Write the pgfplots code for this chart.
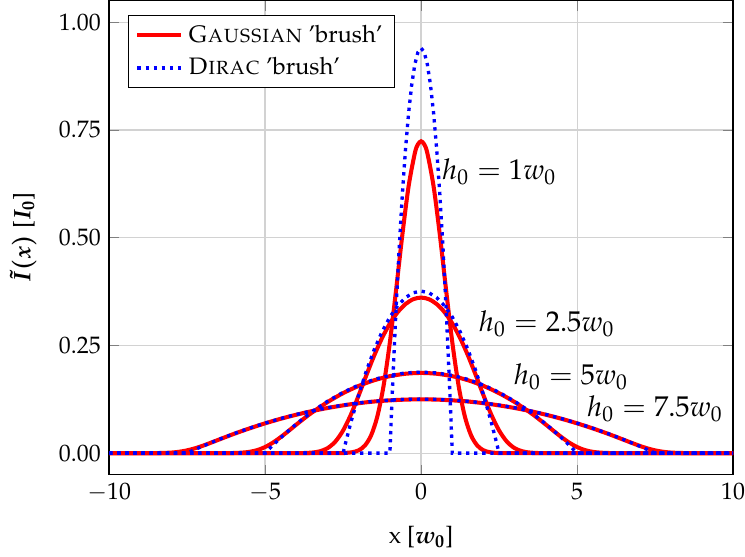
\documentclass[border=0pt]{standalone}
\usepackage[T1]{fontenc}
\usepackage{mathpazo}
\usepackage{amsmath}
\usepackage{bm}
\usepackage{pgfplots}
\pgfplotsset{compat=1.18}
\begin{document}
\begin{tikzpicture}
\begin{axis}[
  scale only axis,
  width=262pt, height=199pt,
  xmin=-10, xmax=10, ymin=-0.05, ymax=1.05,
  xtick={-10,-5,0,5,10},
  ytick={0,0.25,0.5,0.75,1},
  yticklabel style={/pgf/number format/.cd, fixed, fixed zerofill, precision=2},
  xticklabel style={inner xsep=0pt},
  grid=major,
  grid style={line width=0.5pt, gray!35},
  axis line style={line width=0.6pt},
  xlabel={x [$\bm{w_0}$]},
  xlabel shift=3.5pt,
  ylabel shift=2.5pt,
  ylabel={$\bm{\tilde{I}(x)}$ [$\bm{I_0}$]},
  legend pos=north west,
  legend cell align=left,
  legend style={draw=black, font=\normalsize, row sep=1pt},
  legend image code/.code={\draw[#1] (0cm,0cm) -- (0.65cm,0cm);},
]
% Gaussian brush
\addplot[red, line width=1.7pt, smooth] coordinates {
(-10,0) (-3,0) (-2.6,0.0001) (-2.4,0.0006) (-2.2,0.0022) (-2.0,0.0065) (-1.8,0.0177) (-1.6,0.0415) (-1.4,0.0857) (-1.2,0.1573) (-1.0,0.2575) (-0.8,0.3795) (-0.6,0.5070) (-0.4,0.6194) (-0.2,0.6964) (-0.1,0.7168)
(0,0.7237)
(0.1,0.7168) (0.2,0.6964) (0.4,0.6194) (0.6,0.5070) (0.8,0.3795) (1.0,0.2575) (1.2,0.1573) (1.4,0.0857) (1.6,0.0415) (1.8,0.0177) (2.0,0.0065) (2.2,0.0022) (2.4,0.0006) (2.6,0.0001) (3,0) (10,0)
};
\addlegendentry{\textsc{Gaussian} 'brush'}
\addplot[red, line width=1.7pt, smooth, forget plot] coordinates {
(-10,0) (-4,0) (-3.75,0.0003) (-3.5,0.0012) (-3.25,0.0041) (-3.0,0.0114) (-2.75,0.0266) (-2.5,0.0525) (-2.25,0.0893) (-2.0,0.1340) (-1.75,0.1815) (-1.5,0.2270) (-1.25,0.2673) (-1.0,0.3009) (-0.75,0.3271) (-0.5,0.3459) (-0.25,0.3572)
(0,0.3610)
(0.25,0.3572) (0.5,0.3459) (0.75,0.3271) (1.0,0.3009) (1.25,0.2673) (1.5,0.2270) (1.75,0.1815) (2.0,0.1340) (2.25,0.0893) (2.5,0.0525) (2.75,0.0266) (3.0,0.0114) (3.25,0.0041) (3.5,0.0012) (3.75,0.0003) (4,0) (10,0)
};
\addplot[red, line width=1.7pt, smooth, forget plot] coordinates {
(-10,0) (-6.5,0) (-6,0.0003) (-5.75,0.0011) (-5.5,0.0030) (-5.25,0.0070) (-5,0.0141) (-4.75,0.0243) (-4.5,0.0371) (-4.25,0.0514) (-4,0.0661) (-3.75,0.0804) (-3.5,0.0940) (-3,0.1184) (-2.5,0.1391) (-2,0.1560) (-1.5,0.1692) (-1,0.1786) (-0.5,0.1842)
(0,0.1861)
(0.5,0.1842) (1,0.1786) (1.5,0.1692) (2,0.1560) (2.5,0.1391) (3,0.1184) (3.5,0.0940) (3.75,0.0804) (4,0.0661) (4.25,0.0514) (4.5,0.0371) (4.75,0.0243) (5,0.0141) (5.25,0.0070) (5.5,0.0030) (5.75,0.0011) (6,0.0003) (6.5,0) (10,0)
};
\addplot[red, line width=1.7pt, smooth, forget plot] coordinates {
(-10,0) (-9,0) (-8.5,0.0001) (-8.25,0.0005) (-8,0.0013) (-7.75,0.0032) (-7.5,0.0064) (-7.25,0.0111) (-7,0.0170) (-6.75,0.0238) (-6.5,0.0308) (-6,0.0446) (-5.5,0.0574) (-5,0.0691) (-4.5,0.0797) (-4,0.0891) (-3.5,0.0975) (-3,0.1047) (-2.5,0.1108) (-2,0.1159) (-1.5,0.1198) (-1,0.1225) (-0.5,0.1242)
(0,0.1248)
(0.5,0.1242) (1,0.1225) (1.5,0.1198) (2,0.1159) (2.5,0.1108) (3,0.1047) (3.5,0.0975) (4,0.0891) (4.5,0.0797) (5,0.0691) (5.5,0.0574) (6,0.0446) (6.5,0.0308) (6.75,0.0238) (7,0.0170) (7.25,0.0111) (7.5,0.0064) (7.75,0.0032) (8,0.0013) (8.25,0.0005) (8.5,0.0001) (9,0) (10,0)
};
% Dirac brush
\addplot[blue, line width=1.4pt, dotted] coordinates {
(-10,0) (-1.0,0) (-0.95,0.0917) (-0.9,0.1786) (-0.8,0.3384) (-0.7,0.4794) (-0.6,0.6016) (-0.5,0.7050) (-0.4,0.7896) (-0.3,0.8554) (-0.2,0.9024) (-0.1,0.9306)
(0,0.9400)
(0.1,0.9306) (0.2,0.9024) (0.3,0.8554) (0.4,0.7896) (0.5,0.7050) (0.6,0.6016) (0.7,0.4794) (0.8,0.3384) (0.9,0.1786) (0.95,0.0917) (1.0,0) (10,0)
};
\addlegendentry{\textsc{Dirac} 'brush'}
\addplot[blue, line width=1.4pt, dotted, forget plot] coordinates {
(-10,0) (-2.5,0) (-2.4,0.0295) (-2.25,0.0714) (-2.0,0.1354) (-1.75,0.1918) (-1.5,0.2406) (-1.25,0.2820) (-1.0,0.3158) (-0.75,0.3422) (-0.5,0.3610) (-0.25,0.3722)
(0,0.3760)
(0.25,0.3722) (0.5,0.3610) (0.75,0.3422) (1.0,0.3158) (1.25,0.2820) (1.5,0.2406) (1.75,0.1918) (2.0,0.1354) (2.25,0.0714) (2.4,0.0295) (2.5,0) (10,0)
};
\addplot[blue, line width=1.4pt, dotted, forget plot] coordinates {
(-10,0) (-5,0) (-4.8,0.0147) (-4.5,0.0357) (-4,0.0677) (-3.5,0.0959) (-3,0.1203) (-2.5,0.1410) (-2,0.1579) (-1.5,0.1711) (-1,0.1805) (-0.5,0.1861)
(0,0.1880)
(0.5,0.1861) (1,0.1805) (1.5,0.1711) (2,0.1579) (2.5,0.1410) (3,0.1203) (3.5,0.0959) (4,0.0677) (4.5,0.0357) (4.8,0.0147) (5,0) (10,0)
};
\addplot[blue, line width=1.4pt, dotted, forget plot] coordinates {
(-10,0) (-7.5,0) (-7.25,0.0082) (-7,0.0162) (-6.5,0.0312) (-6,0.0451) (-5.5,0.0579) (-5,0.0696) (-4.5,0.0802) (-4,0.0897) (-3.5,0.0980) (-3,0.1053) (-2.5,0.1114) (-2,0.1164) (-1.5,0.1203) (-1,0.1231) (-0.5,0.1248)
(0,0.1253)
(0.5,0.1248) (1,0.1231) (1.5,0.1203) (2,0.1164) (2.5,0.1114) (3,0.1053) (3.5,0.0980) (4,0.0897) (4.5,0.0802) (5,0.0696) (5.5,0.0579) (6,0.0451) (6.5,0.0312) (7,0.0162) (7.25,0.0082) (7.5,0) (10,0)
};
\node[anchor=west, inner sep=0pt, font=\large] at (axis cs:0.66,0.653) {$h_0 = 1w_0$};
\node[anchor=west, inner sep=0pt, font=\large] at (axis cs:1.84,0.301) {$h_0 = 2.5w_0$};
\node[anchor=west, inner sep=0pt, font=\large] at (axis cs:2.96,0.177) {$h_0 = 5w_0$};
\node[anchor=west, inner sep=0pt, font=\large] at (axis cs:5.31,0.103) {$h_0 = 7.5w_0$};
\end{axis}
\path ([xshift=-45.8pt]current axis.south west);
\end{tikzpicture}
\end{document}
